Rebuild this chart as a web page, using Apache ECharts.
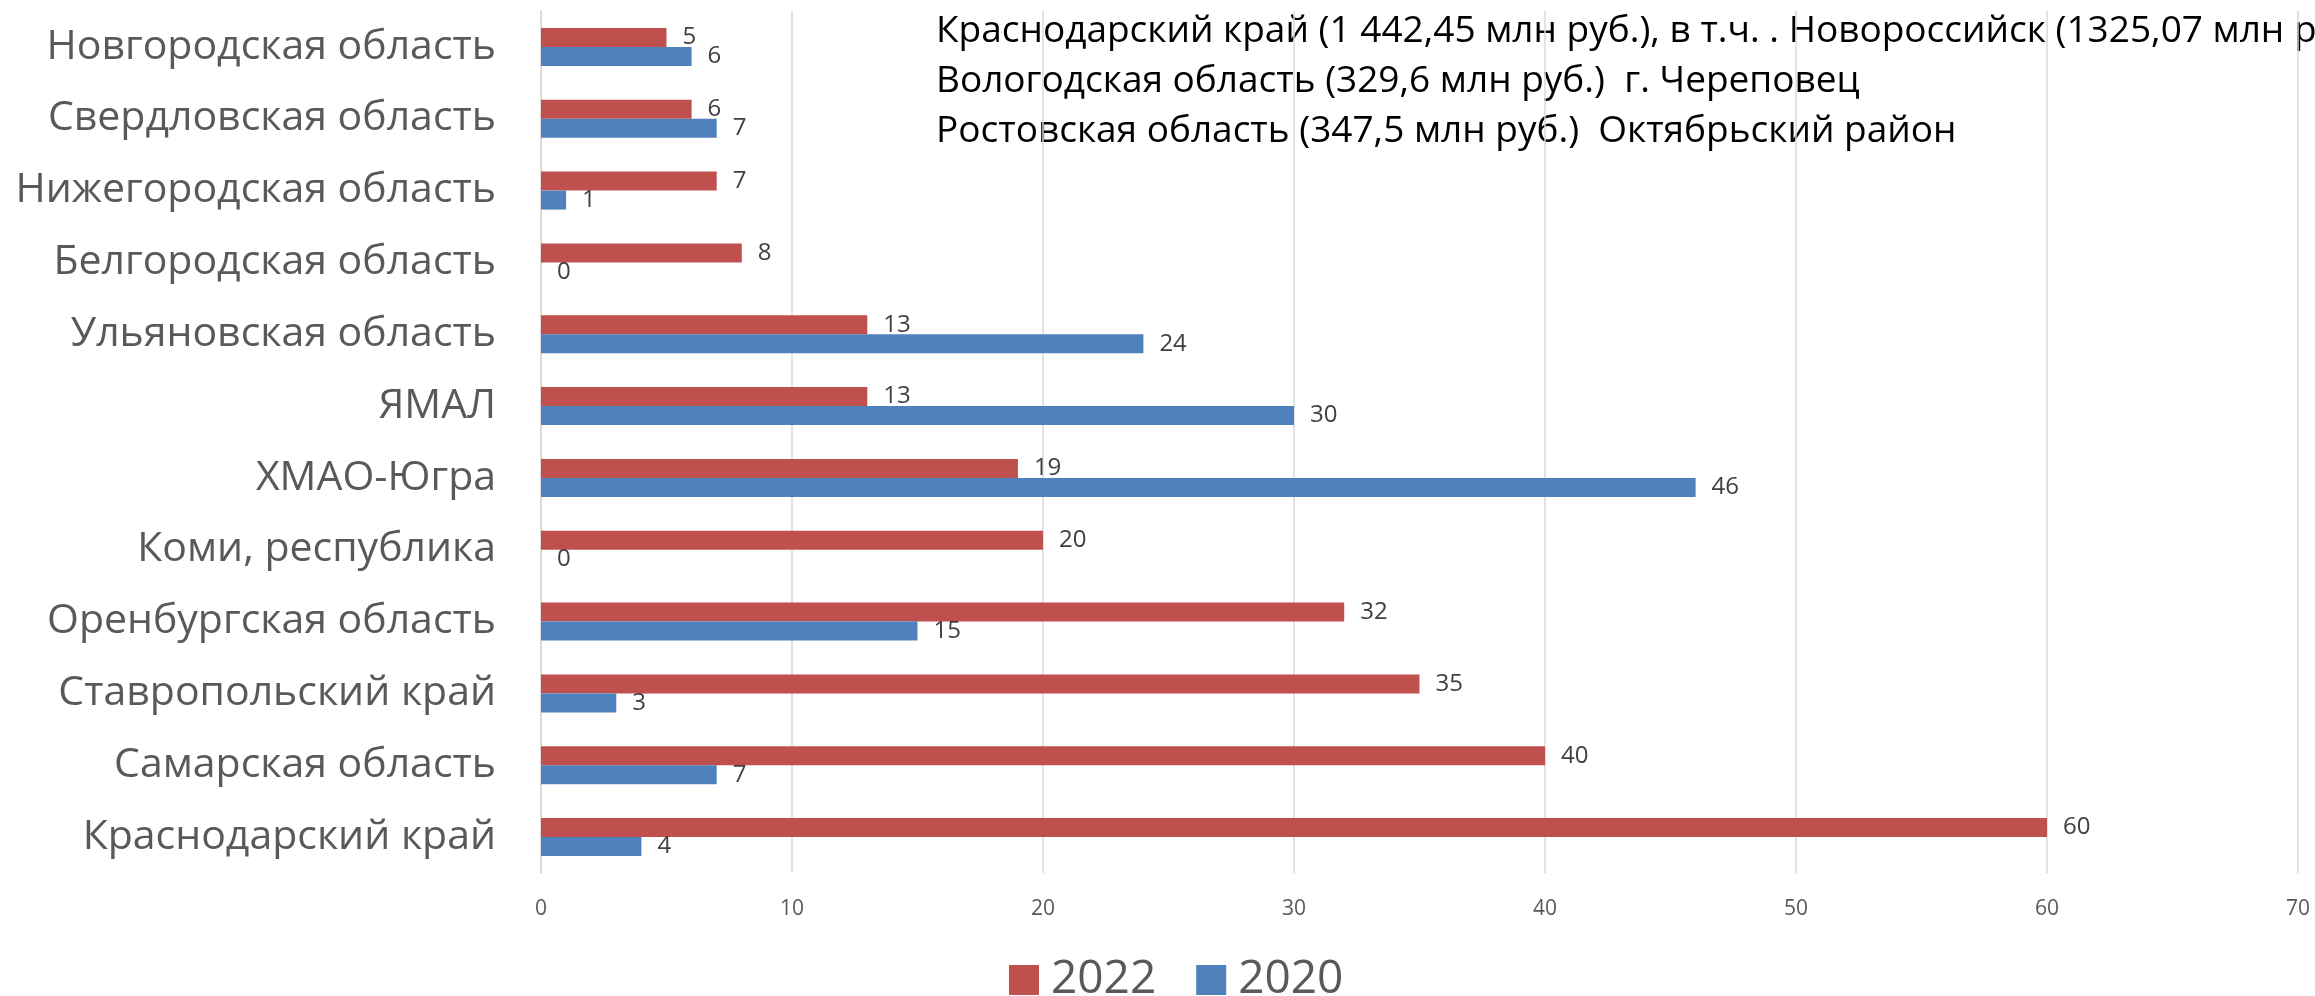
<!DOCTYPE html>
<html><head><meta charset="utf-8">
<script src="https://cdn.jsdelivr.net/npm/echarts@6/dist/echarts.min.js"></script>
<style>html,body{margin:0;padding:0;background:#fff}#c{width:2315px;height:996px}</style>
</head><body><div id="c"></div>
<script>
const categories = ['Новгородская область','Свердловская область','Нижегородская область','Белгородская область','Ульяновская область','ЯМАЛ','ХМАО-Югра','Коми, республика','Оренбургская область','Ставропольский край','Самарская область','Краснодарский край'];
const values2022 = [5,6,7,8,13,13,19,20,32,35,40,60];
const values2020 = [6,7,1,0,24,30,46,0,15,3,7,4];
const seriesNames = ['2022','2020'];
const xTicks = {min:0,max:70,interval:10};
const noteLines = [
  'Краснодарский край (1 442,45 млн руб.), в т.ч. . Новороссийск (1325,07 млн руб.)',
  'Вологодская область (329,6 млн руб.)  г. Череповец',
  'Ростовская область (347,5 млн руб.)  Октябрьский район'
];

const chart = echarts.init(document.getElementById('c'));
const FF = 'Open Sans';
const labelCfg = {show:true, position:'right', distance:16, fontSize:24, color:'#404040', fontFamily:FF};
chart.setOption({
  animation:false,
  textStyle:{fontFamily:FF},
  grid:{left:541, right:17, top:11, bottom:123, containLabel:false},
  legend:{
    data:seriesNames, left:1004, top:952, icon:'rect', itemWidth:30, itemHeight:30, itemGap:40,
    textStyle:{fontSize:46, color:'#595959', fontFamily:FF, padding:[0,0,0,7]}
  },
  xAxis:{type:'value', min:xTicks.min, max:xTicks.max, interval:xTicks.interval,
    axisLine:{show:false}, axisTick:{show:false},
    axisLabel:{fontSize:21, color:'#595959', margin:26, fontFamily:FF},
    splitLine:{show:true, lineStyle:{color:'#D9D9D9', width:1.5}}
  },
  yAxis:{type:'category', data:categories, inverse:true,
    axisLine:{show:true, lineStyle:{color:'#D9D9D9', width:1.5}}, axisTick:{show:false},
    axisLabel:{fontSize:41, color:'#595959', margin:45, fontFamily:FF}
  },
  series:[
    {name:seriesNames[0], type:'bar', data:values2022, barWidth:19, barGap:'0%', itemStyle:{color:'#C0504D'}, label:labelCfg},
    {name:seriesNames[1], type:'bar', data:values2020, barWidth:19, barGap:'0%', itemStyle:{color:'#4F81BD'}, label:labelCfg}
  ],
  graphic:[{type:'text', left:936, top:6, silent:true,
    style:{text:noteLines.join('\n'), font:'37px "Open Sans"', fill:'#000', lineHeight:50}}]
});
</script></body></html>
